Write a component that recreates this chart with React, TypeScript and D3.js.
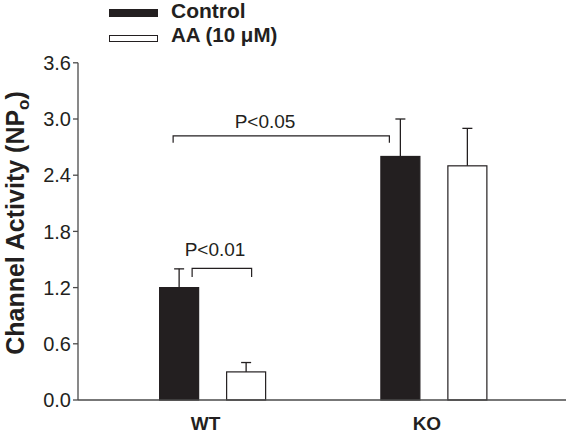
import React from "react";
import * as d3 from "d3";

const categories = ["WT", "KO"];
const seriesNames = ["Control", "AA (10 μM)"];
const controlValues = [1.2, 2.6];
const controlErrors = [0.2, 0.4];
const aaValues = [0.3, 2.5];
const aaErrors = [0.1, 0.4];
const yTicks = [0.0, 0.6, 1.2, 1.8, 2.4, 3.0, 3.6];

const W = 566;
const H = 438;
const x0 = 78;
const yBase = 400;
const yTop = 62.8;
const ink = "#231f20";
const axisCol = "#4a4a4a";
const font = "Arial, 'Liberation Sans', sans-serif";

export default function App() {
  const y = d3.scaleLinear().domain([0, 3.6]).range([yBase, yTop]);
  const xBand = d3.scaleBand<string>().domain(categories).range([102, 544.5]).padding(0);
  const sub = d3.scaleBand<string>().domain(seriesNames).range([-53.5, 53.5]).paddingInner(0.403).paddingOuter(0);
  const bw = sub.bandwidth();
  const series = [
    { name: seriesNames[0], vals: controlValues, errs: controlErrors, fill: ink },
    { name: seriesNames[1], vals: aaValues, errs: aaErrors, fill: "#fff" },
  ];
  const cx = (c: string) => (xBand(c) as number) + xBand.bandwidth() / 2;
  const barCenter = (c: string, s: string) => cx(c) + (sub(s) as number) + bw / 2;

  const wtC = barCenter("WT", seriesNames[0]);
  const wtA = barCenter("WT", seriesNames[1]);
  const koC = barCenter("KO", seriesNames[0]);

  const b1Top = y(1.405);
  const b2Top = y(2.82);

  return (
    <svg width={W} height={H} style={{ position: "absolute", left: 0, top: 0 }} fontFamily={font}>
      <rect width={W} height={H} fill="#fff" />
      {/* legend */}
      <rect x={109} y={9} width={49} height={8} fill={ink} />
      <text x={171} y={17.5} fontSize={21} fontWeight="bold" fill={ink}>{seriesNames[0]}</text>
      <rect x={109.5} y={35.5} width={48} height={6} fill="#fff" stroke={ink} strokeWidth={1} />
      <text x={171} y={41.5} fontSize={20.5} fontWeight="bold" fill={ink}>{seriesNames[1]}</text>

      {/* y axis */}
      <line x1={x0} x2={x0} y1={y(3.6)} y2={yBase} stroke={axisCol} strokeWidth={1.3} />
      {yTicks.map((t) => (
        <g key={t}>
          <line x1={x0 - 5} x2={x0} y1={y(t)} y2={y(t)} stroke={axisCol} strokeWidth={1.3} />
          <text x={71} y={y(t)} dy="0.36em" textAnchor="end" fontSize={20} fill={ink}>
            {d3.format(".1f")(t)}
          </text>
        </g>
      ))}
      <text
        transform={`translate(23.5,223) rotate(-90)`}
        textAnchor="middle"
        fontSize={25}
        fontWeight="bold"
        fill={ink}
      >
        Channel Activity (NP<tspan fontSize={17} dy={5}>o</tspan><tspan dy={-5}>)</tspan>
      </text>

      {/* bars */}
      {series.map((s) =>
        categories.map((c, i) => {
          const bx = cx(c) + (sub(s.name) as number);
          const mid = bx + bw / 2;
          const top = y(s.vals[i]);
          const et = y(s.vals[i] + s.errs[i]);
          return (
            <g key={s.name + c}>
              <line x1={mid} x2={mid} y1={top} y2={et} stroke={ink} strokeWidth={1.3} />
              <line x1={mid - 5} x2={mid + 5} y1={et} y2={et} stroke={ink} strokeWidth={1.3} />
              <rect
                x={bx + 0.5}
                y={top}
                width={bw - 1}
                height={yBase - top}
                fill={s.fill}
                stroke={ink}
                strokeWidth={1.2}
              />
            </g>
          );
        })
      )}

      {/* x axis */}
      <line x1={x0} x2={W} y1={yBase} y2={yBase} stroke={axisCol} strokeWidth={1.3} />
      {categories.map((c) => (
        <text key={c} x={cx(c) - 7} y={430} textAnchor="middle" fontSize={19} fontWeight="bold" fill={ink}>
          {c}
        </text>
      ))}

      {/* significance brackets */}
      <path
        d={`M${wtC + 13},${b1Top + 8.5}V${b1Top}H${wtA + 5.5}V${b1Top + 8.5}`}
        fill="none"
        stroke={ink}
        strokeWidth={1.2}
      />
      <text x={215} y={256} textAnchor="middle" fontSize={19} fill={ink}>P&lt;0.01</text>
      <path
        d={`M${wtC - 6},${b2Top + 7}V${b2Top}H${koC - 11}V${b2Top + 7}`}
        fill="none"
        stroke={ink}
        strokeWidth={1.2}
      />
      <text x={265} y={128} textAnchor="middle" fontSize={19} fill={ink}>P&lt;0.05</text>
    </svg>
  );
}
